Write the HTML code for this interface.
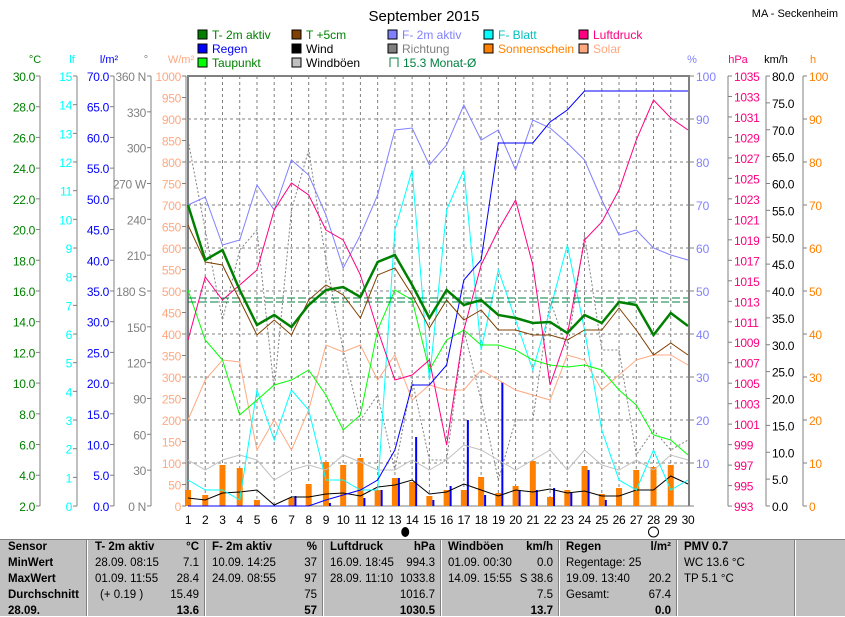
<!DOCTYPE html><html><head><meta charset="utf-8"><style>
body{margin:0;background:#fff;width:845px;height:615px;overflow:hidden;font-family:"Liberation Sans",sans-serif}
svg{position:absolute;left:0;top:0}
#tb{position:absolute;left:0;top:539px;width:845px;height:76px;background:#c0c0c0;font-size:11.5px;border-top:1px solid #808080}
.c{position:absolute;top:0;height:76px;border-left:1px solid #fff;box-shadow:-1px 0 0 #808080}
.t{position:absolute;white-space:nowrap}
</style></head><body>
<svg id="s" width="845" height="539" font-family="Liberation Sans, sans-serif"></svg>
<div id="tb"></div>
<script>
const S=document.getElementById('s');let h='';
const X=d=>188+(d-1)*500/29;
function txt(x,y,t,c,a,sz,ls){h+=`<text x="${x}" y="${y}" fill="${c}" font-size="${sz||11.5}" text-anchor="${a||'start'}" ${ls?`letter-spacing="${ls}"`:''}>${t}</text>`}
txt(424,21,'September 2015','#000','middle',15);
txt(838,17,'MA - Seckenheim','#000','end',11);
const leg=[[198,'T- 2m aktiv','#008000','#008000'],[292,'T +5cm','#804000','#008000'],[388,'F- 2m aktiv','#8080ff','#8080ff'],[484,'F- Blatt','#00ffff','#00c0c0'],[579,'Luftdruck','#ff0080','#ff0080']];
const leg2=[[198,'Regen','#0000ff','#0000ff'],[292,'Wind','#000','#000'],[388,'Richtung','#808080','#808080'],[484,'Sonnenschein','#ff8000','#ff8000'],[579,'Solar','#ffa880','#ffa880']];
const leg3=[[198,'Taupunkt','#00ff00','#008000'],[292,'Windböen','#c0c0c0','#000']];
[[leg,38],[leg2,52],[leg3,66]].forEach(([L,y])=>L.forEach(([x,t,f,c])=>{h+=`<rect x="${x}" y="${y-8}" width="9" height="9" fill="${f}" stroke="#000"/>`;txt(x+14,y+1,t,c,'start',12)}));
h+=`<path d="M390 67v-9h8v9" fill="none" stroke="#008040"/>`;txt(403,67,'15.3 Monat-Ø','#008040','start',12);
for(let d=2;d<=29;d++)h+=`<line x1="${X(d)}" y1="76" x2="${X(d)}" y2="506" stroke="#808080" stroke-dasharray="3,3"/>`;
for(let i=1;i<10;i++)h+=`<line x1="188" y1="${76+i*43}" x2="688" y2="${76+i*43}" stroke="#808080" stroke-dasharray="3,3"/>`;
h+=`<path d="M188 506V76H689V506" fill="none" stroke="#808080" stroke-width="2"/>`;
h+=`<line x1="188" y1="506" x2="689" y2="506" stroke="#808080"/>`;
function axis(lx,unit,uc,vals,tc,side){txt(lx+(side?10:-5),63,unit,uc,'middle',11);h+=`<line x1="${lx}" y1="76" x2="${lx}" y2="506" stroke="#808080"/>`;
vals.forEach(([v,y])=>{h+=`<line x1="${side?lx:lx-4}" y1="${y}" x2="${side?lx+4:lx}" y2="${y}" stroke="#808080"/>`;txt(side?lx+6:lx-5,y+5,v,tc,side?'start':'end',12,-0.3)})}
let a=[];for(let i=0;i<=14;i++)a.push([(30-2*i).toFixed(1),76+i*30.71]);axis(40,'°C','#008000',a,'#008000');
a=[];for(let i=0;i<=15;i++)a.push([15-i,76+i*28.67]);axis(77,'lf','#00ffff',a,'#00ffff');
a=[];for(let i=0;i<=14;i++)a.push([(70-5*i).toFixed(1),76+i*30.71]);axis(114,'l/m²','#0000ff',a,'#0000ff');
a=[];const dl={360:'360 N',270:'270 W',180:'180 S',90:'90',0:'0 N'};for(let i=0;i<=12;i++){let v=360-30*i;a.push([dl[v]||v,76+i*35.83])}axis(151,'°','#808080',a,'#808080');
a=[];for(let i=0;i<=20;i++)a.push([1000-50*i,76+i*21.5]);axis(186,'W/m²','#ffa880',a,'#ffa880');
a=[];for(let i=0;i<=10;i++)a.push([100-10*i,76+i*43]);a.pop();a.push(['',506]);
txt(692,63,'%','#8080ff','middle',11);a.forEach(([v,y])=>{h+=`<line x1="689" y1="${y}" x2="694" y2="${y}" stroke="#808080"/>`;txt(696,y+5,v,'#8080ff',0,12)});
a=[];for(let i=0;i<=21;i++)a.push([1035-2*i,76+i*20.48]);axis(728,'hPa','#ff0080',a,'#ff0080',1);
a=[];for(let i=0;i<=16;i++)a.push([(80-5*i).toFixed(1),76+i*26.875]);axis(766,'km/h','#000',a,'#000',1);
a=[];for(let i=0;i<=10;i++)a.push([100-10*i,76+i*43]);axis(803,'h','#ff8000',a,'#ff8000',1);
for(let d=1;d<=30;d++)txt(X(d),524,d,'#000','middle',12,-0.3);
h+=`<ellipse cx="${X(13.6)}" cy="532" rx="4" ry="5" fill="#000"/><circle cx="${X(28)}" cy="532" r="5" fill="none" stroke="#000"/>`;
function line(ys,c,w,da){h+=`<polyline fill="none" stroke="${c}" stroke-width="${w||1}" ${da?`stroke-dasharray="${da}"`:''} points="${ys.map((y,i)=>X(i+1)+','+y).join(' ')}"/>`}
const sun=[490,495,465,468,500,506,498,484,462,465,458,490,478,482,496,490,490,477,493,486,461,497,490,466,494,488,470,467,465,506];
sun.forEach((y,i)=>{if(y<506)h+=`<rect x="${X(i+1)-3}" y="${y}" width="6" height="${506-y}" fill="#ff8000"/>`});
const rn=[506,506,506,506,506,506,496,506,503,506,498,490,478,437,500,486,420,495,382,490,490,488,492,470,500,506,506,506,506,506];
rn.forEach((y,i)=>{if(y<506)h+=`<rect x="${X(i+1)+3}" y="${y}" width="2" height="${506-y}" fill="#0000ff"/>`});
line([420,380,360,362,450,420,450,410,345,352,345,380,355,400,385,390,390,370,380,390,395,400,355,360,390,375,360,355,355,365],'#ffa880');
line([140,230,320,250,230,390,210,150,260,350,420,395,470,380,460,460,330,400,480,420,420,300,350,235,350,350,455,430,450,440],'#808080',1,'2,2');
line([460,470,460,455,460,480,470,465,470,455,462,470,470,460,470,460,445,450,460,470,460,450,470,450,465,470,460,470,455,460],'#c0c0c0');
line([498,500,493,492,490,505,497,497,494,493,496,487,485,480,494,492,484,490,496,490,492,489,493,491,496,496,490,490,476,484],'#000');
line([480,490,490,500,390,440,390,410,480,480,490,490,230,170,380,210,170,350,270,320,370,310,245,330,430,480,490,450,490,480],'#00ffff');
line([290,340,360,415,400,385,380,370,395,430,415,330,290,300,370,340,330,345,345,350,360,365,367,365,370,390,405,435,440,455],'#00ff00');
line([205,197,245,240,185,210,160,175,215,268,235,195,130,128,165,145,105,140,130,170,120,128,143,160,200,235,230,248,255,260],'#8080ff');
line([340,277,300,285,270,210,183,195,230,240,275,330,380,375,360,445,330,265,230,200,265,385,335,240,222,190,140,100,118,130],'#ff0080');
line([506,506,506,506,506,506,506,506,500,495,490,480,450,385,385,365,280,260,143,143,143,122,110,91,91,91,91,91,91,91],'#0000ff');
h+=`<line x1="188" y1="298" x2="688" y2="298" stroke="#008040" stroke-dasharray="8,3"/><line x1="188" y1="302" x2="688" y2="302" stroke="#008040" stroke-dasharray="8,3"/>`;
line([225,262,265,300,335,320,335,300,285,295,318,275,268,295,328,300,320,310,330,330,335,335,340,330,330,308,330,355,343,355],'#804000');
line([205,260,250,290,325,315,327,305,290,287,297,262,255,285,318,290,305,300,315,318,323,322,333,315,323,302,305,335,313,326],'#008000',2.5);
S.innerHTML=h;
const tb=document.getElementById('tb');let th='';
[87,205,323,441,559,677,795].forEach(x=>th+=`<div class="c" style="left:${x}px"></div>`);
const rows=[13,29,45,61,77];
function t(x,r,s,b,al){th+=`<div class="t" style="${al?'right:'+(845-x)+'px':'left:'+x+'px'};top:${rows[r]-12}px;${b?'font-weight:bold':''}">${s}</div>`}
['Sensor','MinWert','MaxWert','Durchschnitt','28.09.'].forEach((s,i)=>t(8,i,s,1));
t(95,0,'T- 2m aktiv',1);t(199,0,'°C',1,1);t(95,1,'28.09.  08:15');t(199,1,'7.1',0,1);t(95,2,'01.09.  11:55');t(199,2,'28.4',0,1);t(100,3,'(+ 0.19 )');t(199,3,'15.49',0,1);t(199,4,'13.6',1,1);
t(212,0,'F- 2m aktiv',1);t(317,0,'%',1,1);t(212,1,'10.09.  14:25');t(317,1,'37',0,1);t(212,2,'24.09.  08:55');t(317,2,'97',0,1);t(317,3,'75',0,1);t(317,4,'57',1,1);
t(330,0,'Luftdruck',1);t(435,0,'hPa',1,1);t(330,1,'16.09.  18:45');t(435,1,'994.3',0,1);t(330,2,'28.09.  11:10');t(435,2,'1033.8',0,1);t(435,3,'1016.7',0,1);t(435,4,'1030.5',1,1);
t(448,0,'Windböen',1);t(553,0,'km/h',1,1);t(448,1,'01.09.  00:30');t(553,1,'0.0',0,1);t(448,2,'14.09.  15:55');t(553,2,'S 38.6',0,1);t(553,3,'7.5',0,1);t(553,4,'13.7',1,1);
t(566,0,'Regen',1);t(671,0,'l/m²',1,1);t(566,1,'Regentage: 25');t(566,2,'19.09.  13:40');t(671,2,'20.2',0,1);t(566,3,'Gesamt:');t(671,3,'67.4',0,1);t(671,4,'0.0',1,1);
t(684,0,'PMV 0.7',1);t(684,1,'WC 13.6 °C');t(684,2,'TP 5.1 °C');
tb.innerHTML=th;
</script></body></html>
